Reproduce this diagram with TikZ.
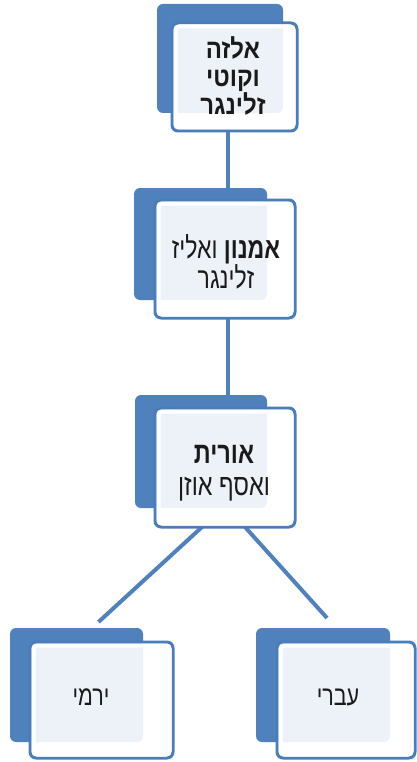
\documentclass[tikz,border=0pt]{standalone}
\usepackage{fontspec}
\usepackage{graphicx}
\setmainfont{Liberation Sans}
\newfontfamily\hebfont[Script=Hebrew]{Liberation Sans}
\TeXXeTstate=1
\usetikzlibrary{calc}
\definecolor{sablue}{HTML}{4F81BD}
\definecolor{sabord}{HTML}{4A7EBB}
\definecolor{txtc}{HTML}{1A1A1A}
\newcommand{\hebline}[1]{\scalebox{1}[1.28]{\beginR #1\endR}}
\newcommand{\hebtop}[1]{\scalebox{1}[1.12]{\beginR #1\endR}}
\pgfdeclarelayer{background}
\pgfsetlayers{background,main}
\begin{document}
\begin{tikzpicture}[x=1pt,y=-1pt,
  backbox/.style={fill=sablue, rounded corners=6pt, inner sep=0pt, outer sep=0pt},
  frontbox/.style={rounded corners=6pt, fill=white, fill opacity=0.9, draw=sabord, line width=3pt, inner sep=0pt, outer sep=0pt},
  insetband/.style={draw=white, line width=4pt, rounded corners=4pt},
  conn/.style={draw=sablue, line width=4pt},
  lbltop/.style={text=txtc, align=center, inner sep=0pt, font=\hebfont\bfseries\fontsize{24}{28}\selectfont},
  lblmid/.style={text=txtc, align=center, inner sep=0pt, font=\hebfont\fontsize{23}{29}\selectfont},
  lblthr/.style={text=txtc, align=center, inner sep=0pt, font=\hebfont\fontsize{23.5}{32}\selectfont},
  lblbot/.style={text=txtc, align=center, inner sep=0pt, font=\hebfont\fontsize{21.5}{29}\selectfont}]
\useasboundingbox (0,0) rectangle (417,762);
% level 1
\node[backbox, minimum width=126pt, minimum height=109pt] (b1) at (220,58.5) {};
\node[frontbox, minimum width=125pt, minimum height=108pt] (f1) at (234.5,77) {};
% level 2
\node[backbox, minimum width=133pt, minimum height=112pt] (b2) at (200.5,244) {};
\node[frontbox, minimum width=140pt, minimum height=118pt] (f2) at (225,259) {};
% level 3
\node[backbox, minimum width=132pt, minimum height=113pt] (b3) at (201,451.5) {};
\node[frontbox, minimum width=140pt, minimum height=119pt] (f3) at (225,467.5) {};
% level 4
\node[backbox, minimum width=133pt, minimum height=114pt] (b4) at (76.5,685) {};
\node[frontbox, minimum width=143pt, minimum height=116pt] (f4) at (101.5,700) {};
\node[backbox, minimum width=134pt, minimum height=114pt] (b5) at (323,685) {};
\node[frontbox, minimum width=138pt, minimum height=116pt] (f5) at (346,700) {};
\foreach \f in {f1,f2,f3,f4,f5}{
  \draw[insetband] ([shift={(3.5,3.5)}]\f.north west) rectangle ([shift={(-3.5,-3.5)}]\f.south east);
}
% texts
\node[lbltop] (t1) at (233,76)
  {\hebtop{אלזה}\\\hebtop{וקוטי}\\\hebtop{זלינגר}};
\node[lblmid] (t2) at (226,262)
  {\hebline{\textbf{אמנון} ואליז}\\\hebline{זלינגר}};
\node[lblthr] (t3) at (224,473)
  {\hebline{\textbf{אורית}}\\\hebline{ואסף אוזן}};
\node[lblbot] (t4) at (91,697) {\hebline{ירמי}};
\node[lblbot] (t5) at (338,697) {\hebline{עברי}};
% connectors
\begin{pgfonlayer}{background}
\draw[conn] (f1.south -| 228,0) -- (b2.north -| 228,0);
\draw[conn] (f2.south -| 228,0) -- (b3.north -| 228,0);
\draw[conn] ($(f3.south)+(-23,0)$) -- ($(f4.north)+(-3,-20)$);
\draw[conn] ($(f3.south)+(20,0)$) -- ($(f5.north)+(-19,-24)$);
\end{pgfonlayer}
\end{tikzpicture}
\end{document}
